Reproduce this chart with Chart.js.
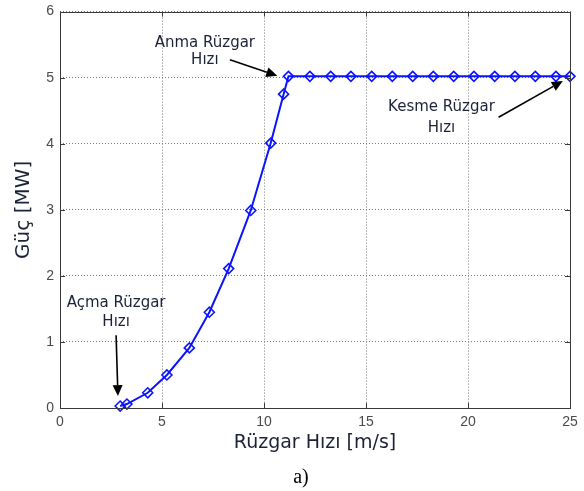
<!DOCTYPE html>
<html><head><meta charset="utf-8">
<script src="https://cdn.jsdelivr.net/npm/chart.js@4/dist/chart.umd.min.js"></script>
<style>html,body{margin:0;padding:0;background:#fff;}canvas{display:block;}</style>
</head><body>
<canvas id="c" width="584" height="491"></canvas>
<script>
const windSpeed = [2.95, 3.28, 4.3, 5.24, 6.34, 7.32, 8.27, 9.35, 10.33, 10.96, 11.2, 12.25, 13.27, 14.26, 15.28, 16.29, 17.29, 18.3, 19.3, 20.29, 21.31, 22.3, 23.3, 24.31, 25];
const power = [0.03, 0.06, 0.23, 0.5, 0.91, 1.45, 2.11, 2.99, 4.01, 4.75, 5.02, 5.02, 5.02, 5.02, 5.02, 5.02, 5.02, 5.02, 5.02, 5.02, 5.02, 5.02, 5.02, 5.02, 5.02];
const xTicks = [0, 5, 10, 15, 20, 25];
const yTicks = [0, 1, 2, 3, 4, 5, 6];
const xTitle = 'Rüzgar Hızı [m/s]';
const yTitle = 'Güç [MW]';
const caption = 'a)';
// annotations: text lines anchored in data units, arrows from/to in data units
const annoTexts = [
  {lines: ['Anma Rüzgar', 'Hızı'], x: 7.1, y: [5.53, 5.26]},
  {lines: ['Kesme Rüzgar', 'Hızı'], x: 18.7, y: [4.56, 4.23]},
  {lines: ['Açma Rüzgar', 'Hızı'], x: 2.75, y: [1.59, 1.30]}
];
const annoArrows = [
  {from: [8.33, 5.27], to: [10.65, 5.03]},
  {from: [21.5, 4.40], to: [24.65, 4.95]},
  {from: [2.75, 1.10], to: [2.84, 0.18]}
];

const textColor = '#1c2238';
const sans = '"DejaVu Sans", Verdana, sans-serif';
const decor = {
  id: 'decor',
  afterDraw(chart) {
    const ctx = chart.ctx, a = chart.chartArea;
    const xs = chart.scales.x, ys = chart.scales.y;
    ctx.save();
    // box
    ctx.strokeStyle = '#3a3a3a'; ctx.lineWidth = 1;
    ctx.strokeRect(Math.round(a.left) + 0.5, Math.round(a.top) + 0.5, Math.round(a.right - a.left), Math.round(a.bottom - a.top));
    // inner ticks on all sides
    ctx.beginPath();
    xTicks.forEach(v => {
      const px = Math.round(xs.getPixelForValue(v)) + 0.5;
      ctx.moveTo(px, a.bottom); ctx.lineTo(px, a.bottom - 5);
      ctx.moveTo(px, a.top); ctx.lineTo(px, a.top + 5);
    });
    yTicks.forEach(v => {
      const py = Math.round(ys.getPixelForValue(v)) + 0.5;
      ctx.moveTo(a.left, py); ctx.lineTo(a.left + 5, py);
      ctx.moveTo(a.right, py); ctx.lineTo(a.right - 5, py);
    });
    ctx.stroke();
    // annotation texts
    ctx.fillStyle = textColor;
    ctx.font = '15px ' + sans;
    ctx.textAlign = 'center'; ctx.textBaseline = 'middle';
    annoTexts.forEach(t => {
      t.lines.forEach((s, i) => ctx.fillText(s, xs.getPixelForValue(t.x), ys.getPixelForValue(t.y[i])));
    });
    // arrows
    ctx.strokeStyle = '#000'; ctx.fillStyle = '#000'; ctx.lineWidth = 1.6;
    annoArrows.forEach(ar => {
      const x1 = xs.getPixelForValue(ar.from[0]), y1 = ys.getPixelForValue(ar.from[1]);
      const x2 = xs.getPixelForValue(ar.to[0]), y2 = ys.getPixelForValue(ar.to[1]);
      const ang = Math.atan2(y2 - y1, x2 - x1), L = 11, W = 5;
      const bx = x2 - L * Math.cos(ang), by = y2 - L * Math.sin(ang);
      ctx.beginPath(); ctx.moveTo(x1, y1); ctx.lineTo(bx, by); ctx.stroke();
      ctx.beginPath();
      ctx.moveTo(x2, y2);
      ctx.lineTo(bx + W * Math.sin(ang), by - W * Math.cos(ang));
      ctx.lineTo(bx - W * Math.sin(ang), by + W * Math.cos(ang));
      ctx.closePath(); ctx.fill();
    });
    // caption
    ctx.fillStyle = '#000';
    ctx.font = '20px "Liberation Serif", "Times New Roman", serif';
    ctx.fillText(caption, (a.left + a.right) / 2 - 14, 478);
    ctx.restore();
  }
};

new Chart(document.getElementById('c'), {
  type: 'line',
  data: {
    datasets: [{
      data: windSpeed.map((x, i) => ({x, y: power[i]})),
      borderColor: '#0a14ff',
      borderWidth: 2,
      pointStyle: 'rectRot',
      pointRadius: 5,
      pointBorderWidth: 1.6,
      pointBorderColor: '#0a14ff',
      pointBackgroundColor: 'rgba(255,255,255,0)',
      tension: 0,
      clip: false
    }]
  },
  options: {
    responsive: false,
    devicePixelRatio: 1,
    animation: false,
    events: [],
    layout: {padding: {top: 8, right: 14, left: 0, bottom: 0}},
    plugins: {legend: {display: false}, tooltip: {enabled: false}},
    scales: {
      x: {
        type: 'linear', min: 0, max: 25,
        afterBuildTicks: s => { s.ticks = xTicks.map(v => ({value: v})); },
        afterFit: s => { s.height = 83; },
        ticks: {color: '#4a4a4a', font: {size: 14, family: '"Liberation Sans", Arial, sans-serif'}, padding: 6, maxRotation: 0},
        grid: {color: '#777', lineWidth: 1, drawTicks: false},
        border: {display: false, dash: [1, 2]},
        title: {display: true, text: xTitle, color: textColor, font: {size: 19, family: sans}, padding: {top: 0, bottom: 37}}
      },
      y: {
        type: 'linear', min: 0, max: 6,
        afterBuildTicks: s => { s.ticks = yTicks.map(v => ({value: v})); },
        afterFit: s => { s.width = 60; },
        ticks: {color: '#4a4a4a', font: {size: 14, lineHeight: 0.8, family: '"Liberation Sans", Arial, sans-serif'}, padding: 6},
        grid: {color: '#777', lineWidth: 1, drawTicks: false},
        border: {display: false, dash: [1, 2]},
        title: {display: true, text: yTitle, color: textColor, font: {size: 20, family: sans}, padding: {top: 12, bottom: 0}}
      }
    }
  },
  plugins: [decor]
});
</script>
</body></html>
